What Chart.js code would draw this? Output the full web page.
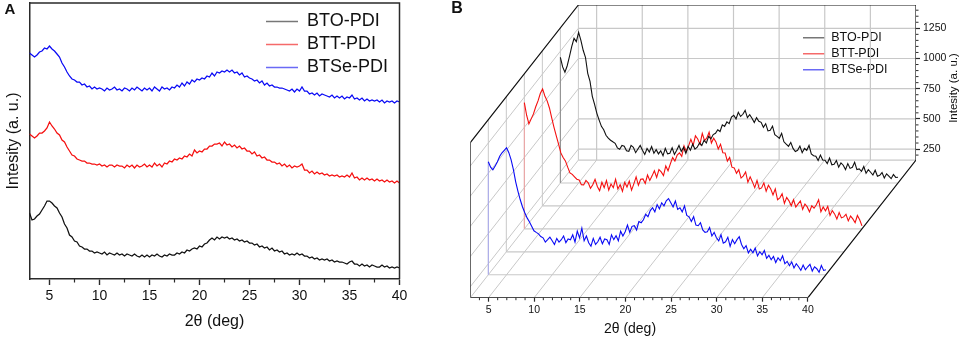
<!DOCTYPE html>
<html>
<head>
<meta charset="utf-8">
<style>
html,body{margin:0;padding:0;background:#fff;width:962px;height:339px;overflow:hidden}
canvas{position:absolute;top:0}
#a{left:0}
#b{left:430px}
</style>
<script src="https://cdn.jsdelivr.net/npm/chart.js@4"></script>
</head>
<body>
<canvas id="a" width="425" height="339" style="width:425px;height:339px"></canvas>
<canvas id="b" width="532" height="339" style="width:532px;height:339px"></canvas>
<script>
const twoTheta = [3,3.25,3.5,3.75,4,4.25,4.5,4.75,
5,5.25,5.5,5.75,6,6.25,6.5,6.75,7,7.25,7.5,7.75,8,8.25,8.5,8.75,9,9.25,9.5,9.75,
10,10.25,10.5,10.75,11,11.25,11.5,11.75,12,12.25,12.5,12.75,13,13.25,13.5,13.75,14,14.25,14.5,14.75,
15,15.25,15.5,15.75,16,16.25,16.5,16.75,17,17.25,17.5,17.75,18,18.25,18.5,18.75,19,19.25,19.5,19.75,
20,20.25,20.5,20.75,21,21.25,21.5,21.75,22,22.25,22.5,22.75,23,23.25,23.5,23.75,24,24.25,24.5,24.75,
25,25.25,25.5,25.75,26,26.25,26.5,26.75,27,27.25,27.5,27.75,28,28.25,28.5,28.75,29,29.25,29.5,29.75,
30,30.25,30.5,30.75,31,31.25,31.5,31.75,32,32.25,32.5,32.75,33,33.25,33.5,33.75,34,34.25,34.5,34.75,
35,35.25,35.5,35.75,36,36.25,36.5,36.75,37,37.25,37.5,37.75,38,38.25,38.5,38.75,39,39.25,39.5,39.75,
40];
const seriesNames = ['BTO-PDI','BTT-PDI','BTSe-PDI'];
const seriesColors = ['#111111','#f50f0f','#0a0af5'];
const legendColors = ['#777777','#f56a6a','#6a6af5'];
const dropColors = ['#8c8c8c','#f0a0a0','#a8a8f0'];

// Panel A (stacked curves, arbitrary units)
const aBTO = [66,59,60,63,65,69,73,78,
78,76,73,71,66,62,55,51,44,42,38,37,33,32,30,30,28,28,26,27,
26,25,27,24,26,25,24,26,24,25,23,25,24,23,25,23,22,24,22,24,
22,24,23,25,23,22,24,23,25,24,24,26,25,27,26,29,28,30,31,30,
33,32,35,36,39,41,39,42,40,42,41,42,40,41,39,40,38,39,37,38,
36,36,34,35,32,33,31,32,29,31,28,29,27,28,25,26,24,25,24,26,
24,25,23,23,21,22,20,21,19,20,19,20,18,19,17,18,17,17,16,15,
17,18,15,15,13,15,13,14,12,14,13,12,12,14,12,13,11,12,11,12,
11];
const aBTT = [145,143,141,143,146,146,148,151,
157,153,150,146,144,139,137,132,128,124,123,120,119,118,118,116,116,115,115,114,
115,113,114,112,114,114,112,114,113,113,111,114,112,114,111,114,112,113,115,112,
114,112,116,113,115,112,116,115,118,117,120,119,121,120,123,122,125,123,129,126,
128,127,130,130,133,133,135,135,136,133,137,134,135,132,134,131,133,130,131,128,
128,125,127,123,124,121,122,119,119,117,117,115,116,113,115,112,114,111,113,112,
113,115,109,109,106,108,105,107,105,106,104,105,103,104,103,104,102,103,102,104,
102,106,101,102,99,101,99,101,99,100,98,100,98,99,97,99,97,98,96,98,
96];
const aBTSe = [226,224,222,224,227,228,231,230,
233,230,228,225,222,216,212,207,203,200,199,197,197,194,195,192,193,190,192,190,
191,190,188,191,189,190,192,189,190,188,191,190,188,191,189,192,190,188,191,189,
191,188,192,190,188,192,190,191,189,192,191,194,192,196,193,197,195,199,197,200,
199,201,200,203,202,206,203,207,206,208,207,209,207,209,206,207,204,206,202,203,
201,200,198,199,196,198,194,196,193,194,192,192,191,191,190,189,188,190,187,190,
188,192,188,188,185,186,184,186,183,185,184,183,182,184,181,183,181,183,180,182,
181,184,180,181,179,181,178,180,178,179,178,179,177,179,176,178,177,178,176,178,
177];
const aXTicks = [5,10,15,20,25,30,35,40];
const aXMinor = [7.5,12.5,17.5,22.5,27.5,32.5,37.5];

// Panel B (waterfall, intensity in a.u.)
const bBTO = [1200,1120,1076,1130,1208,1290,1357,1330,
1407,1340,1258,1200,1067,1000,877,810,736,680,628,600,554,530,513,500,488,450,438,470,
463,425,421,470,455,410,440,470,430,395,445,415,460,405,435,400,425,385,445,400,
405,450,395,430,470,420,455,405,463,430,480,440,455,490,470,512,490,545,525,560,
570,600,585,640,628,665,650,705,720,690,744,710,728,760,700,725,695,660,700,670,
661,620,650,590,595,630,560,545,529,570,500,480,463,495,445,420,430,465,410,445,
430,470,400,385,380,345,390,350,347,320,365,310,314,345,290,325,306,270,320,280,
289,330,270,275,256,295,240,270,248,225,265,215,223,245,200,235,215,195,230,205,
206];
const bBTT = [1204,1100,1028,1070,1111,1170,1219,1280,
1318,1260,1219,1160,1078,1000,929,860,788,750,722,670,623,610,590,570,565,525,523,560,
540,495,525,570,510,475,545,500,560,480,530,500,570,490,525,470,545,505,555,480,
532,590,520,570,573,535,605,560,598,640,585,650,631,600,680,640,697,750,720,770,
788,760,846,800,846,900,850,930,904,860,950,890,912,960,870,910,879,820,860,790,
788,720,750,670,664,620,650,580,598,630,545,590,548,500,560,490,498,540,470,520,
490,440,490,400,416,450,370,420,391,350,400,340,366,390,320,365,341,300,350,330,
358,400,300,340,308,345,270,310,283,240,295,250,258,280,225,265,242,210,270,235,
184];
const bBTSe = [1095,1050,1028,1060,1095,1140,1169,1190,
1211,1170,1111,1030,929,850,780,720,672,630,598,560,523,510,498,475,465,430,449,470,
441,410,460,430,449,480,425,455,449,490,430,520,465,545,440,480,424,395,460,410,
432,470,415,455,449,410,490,450,482,440,520,480,515,570,510,560,565,530,600,590,
614,660,640,690,714,680,740,705,755,730,772,790,755,720,770,700,714,680,730,650,
639,600,640,570,565,590,530,510,515,550,480,510,465,440,490,420,432,470,395,450,
416,450,474,410,374,400,340,370,341,380,315,350,325,360,295,320,283,310,260,300,
275,316,250,270,234,265,215,250,225,195,240,200,225,245,190,225,209,180,235,195,
200];
const bDepths = [5,3,1];
const bXTicks = [5,10,15,20,25,30,35,40];
const bXMinor = [4,6,7,8,9,11,12,13,14,16,17,18,19,21,22,23,24,26,27,28,29,31,32,33,34,36,37,38,39];
const bYTicks = [250,500,750,1000,1250];
const bYMinor = [200,300,350,400,450,550,600,650,700,800,850,900,950,1050,1100,1150,1200,1300,1350,1400];
const bFloor = 159, bTop = 1443, bXStart = 3, bXEnd = 40, bLevels = 6;
const bDepthX = 1.974, bDepthY = 190;   // shift of one depth level, in axis units

const FONT = '"Liberation Sans", Arial, sans-serif';
const INK = '#2a2a2a';

function project(deg, value, depth){ return {x: deg + depth*bDepthX, y: value - (bLevels-depth)*bDepthY}; }
function minorTicks(ctx, scale, values, from, to, horizontal, width){
  ctx.save(); ctx.strokeStyle = INK; ctx.lineWidth = width; ctx.beginPath();
  values.forEach(v=>{
    const p = scale.getPixelForValue(v);
    if(horizontal){ ctx.moveTo(p,from); ctx.lineTo(p,to); } else { ctx.moveTo(from,p); ctx.lineTo(to,p); }
  });
  ctx.stroke(); ctx.restore();
}
function text(ctx, str, x, y, font, rotate){
  ctx.save(); ctx.translate(x,y); if(rotate) ctx.rotate(rotate);
  ctx.font = font; ctx.fillStyle = '#111'; ctx.textAlign='center'; ctx.textBaseline='middle';
  ctx.fillText(str,0,0); ctx.restore();
}
function placeLegend(left, top){
  return { id:'placeLegend', afterLayout(chart){ chart.legend.left = left; chart.legend.top = top; } };
}
function paleLabels(chart){
  return Chart.defaults.plugins.legend.labels.generateLabels(chart)
    .filter(item=>seriesNames.includes(item.text))
    .map(item=>{
      const c = legendColors[seriesNames.indexOf(item.text)];
      return Object.assign(item,{fillStyle:c,strokeStyle:c,lineWidth:0});
    });
}

/* ---------- Panel A ---------- */
const aValues = [aBTO,aBTT,aBTSe];
new Chart(document.getElementById('a'),{
  type:'scatter',
  data:{datasets:aValues.map((vals,i)=>({
    label:seriesNames[i],
    data:vals.map((v,k)=>({x:twoTheta[k],y:v})),
    showLine:true, borderColor:seriesColors[i], backgroundColor:seriesColors[i],
    borderWidth:1.25, pointRadius:0, tension:0
  }))},
  options:{
    responsive:false, animation:false, events:[],
    layout:{padding:{left:0,right:25.5,top:3,bottom:0}},
    plugins:{
      tooltip:{enabled:false},
      legend:{position:'chartArea',align:'start',
        labels:{color:'#111',font:{family:FONT,size:18},boxWidth:32,boxHeight:1.5,padding:5,generateLabels:paleLabels}}
    },
    scales:{
      x:{type:'linear',min:3,max:40,
        afterBuildTicks(s){s.ticks=aXTicks.map(v=>({value:v}));},
        afterFit(s){s.height=60;},
        grid:{drawOnChartArea:false,drawTicks:true,tickLength:6,tickColor:INK,tickWidth:1.4},
        border:{display:true,color:INK,width:1.5},
        ticks:{color:'#111',font:{family:FONT,size:14},padding:3,maxRotation:0,autoSkip:false},
        title:{display:true,text:'2θ (deg)',color:'#111',font:{family:FONT,size:16},padding:{top:0,bottom:8}}
      },
      y:{type:'linear',min:0,max:276,
        afterFit(s){s.width=29.5;},
        grid:{display:false},
        border:{display:true,color:INK,width:1.5},
        ticks:{display:false},
        title:{display:true,text:'Intesity (a. u.)',color:'#111',font:{family:FONT,size:16},padding:{top:4,bottom:0}}
      }
    }
  },
  plugins:[placeLegend(261,7.5),{
    id:'panelA',
    afterDraw(chart){
      const c=chart.ctx,a=chart.chartArea;
      c.save();c.strokeStyle=INK;c.lineWidth=1.5;
      c.beginPath();c.moveTo(a.left,a.top);c.lineTo(a.right,a.top);c.lineTo(a.right,a.bottom);c.stroke();c.restore();
      minorTicks(c,chart.scales.x,aXMinor,a.bottom,a.bottom+3.5,true,1.2);
      text(c,'A',10,10,'bold 15px '+FONT);
    }
  }]
});

/* ---------- Panel B ---------- */
const GRID='#c8c8c8', FRAME='#111111';
const bValues=[bBTO,bBTT,bBTSe];
const bDatasets=[];
function addLine(points,color,width,order){
  bDatasets.push({data:points,showLine:true,borderColor:color,backgroundColor:color,borderWidth:width,pointRadius:0,tension:0,order:order});
}
// back wall and floor grid
bYTicks.forEach(v=>{
  addLine([project(bXStart,v,bLevels),project(bXEnd,v,bLevels)],GRID,1.2,30);
  addLine([project(bXStart,v,0),project(bXStart,v,bLevels)],GRID,1,30);
});
bXTicks.slice(0,-1).forEach(d=>{
  addLine([project(d,bFloor,0),project(d,bFloor,bLevels)],GRID,1,30);
  addLine([project(d,bFloor,bLevels),project(d,bTop,bLevels)],GRID,1.2,30);
});
[1,2,3,4,5,6].forEach(k=>{
  addLine([project(bXStart,bFloor,k),project(bXEnd,bFloor,k)],GRID,1.2,30);
  addLine([project(bXStart,bFloor,k),project(bXStart,bTop,k)],GRID,1,30);
});
addLine([project(bXStart,bFloor,0),project(bXStart,bFloor,bLevels)],GRID,1,30);
// frame
addLine([project(bXStart,bFloor,0),project(bXStart,bTop,0),project(bXStart,bTop,bLevels),project(bXEnd,bTop,bLevels),project(bXEnd,bFloor,bLevels),project(bXEnd,bFloor,0),project(bXStart,bFloor,0)],FRAME,1.2,20);
// drop lines and curves
bValues.forEach((vals,i)=>{
  addLine([project(twoTheta[0],bFloor,bDepths[i]),project(twoTheta[0],vals[0],bDepths[i])],dropColors[i],1,10);
});
bValues.forEach((vals,i)=>{
  bDatasets.push({
    label:seriesNames[i],
    data:vals.map((v,k)=>project(twoTheta[k],v,bDepths[i])),
    showLine:true,borderColor:seriesColors[i],backgroundColor:seriesColors[i],
    borderWidth:1.1,pointRadius:0,tension:0,order:i+1
  });
});
new Chart(document.getElementById('b'),{
  type:'scatter',
  data:{datasets:bDatasets},
  options:{
    responsive:false, animation:false, events:[],
    layout:{padding:{left:40.3,right:0,top:5,bottom:0}},
    plugins:{
      tooltip:{enabled:false},
      legend:{position:'chartArea',align:'start',
        labels:{color:'#111',font:{family:FONT,size:12.5},boxWidth:22,boxHeight:1.5,padding:3.5,generateLabels:paleLabels}}
    },
    scales:{
      x:{type:'linear',min:bXStart,max:bXEnd+bLevels*bDepthX,
        afterBuildTicks(s){s.ticks=bXTicks.map(v=>({value:v}));},
        afterFit(s){s.height=41.3;s.paddingLeft=0;s.paddingRight=0;},
        grid:{drawOnChartArea:false,drawTicks:true,tickLength:4,tickColor:INK,tickWidth:1.2},
        border:{display:false},
        ticks:{color:'#111',font:{family:FONT,size:10.5},padding:2,maxRotation:0,autoSkip:false}
      },
      y:{type:'linear',position:'right',min:bFloor-bLevels*bDepthY,max:bTop,
        afterBuildTicks(s){s.ticks=bYTicks.map(v=>({value:v}));},
        afterFit(s){s.width=46;s.paddingTop=0;s.paddingBottom=0;},
        grid:{drawOnChartArea:false,drawTicks:true,tickLength:4,tickColor:INK,tickWidth:1.2},
        border:{display:false},
        ticks:{color:'#111',font:{family:FONT,size:10.5},padding:3,autoSkip:false,callback:(v)=>String(v)}
      }
    }
  },
  plugins:[placeLegend(369.5,28),{
    id:'panelB',
    afterDraw(chart){
      const c=chart.ctx,a=chart.chartArea,sx=chart.scales.x,sy=chart.scales.y;
      minorTicks(c,sx,bXMinor,a.bottom,a.bottom+2.5,true,1);
      minorTicks(c,sy,bYMinor,a.right,a.right+2.5,false,1);
      text(c,'B',27,9,'bold 16px '+FONT);
      text(c,'2θ (deg)',200,329,'14px '+FONT);
      text(c,'Intesity (a. u.)',524,88,'11.5px '+FONT,-Math.PI/2);
    }
  }]
});
</script>
</body>
</html>
